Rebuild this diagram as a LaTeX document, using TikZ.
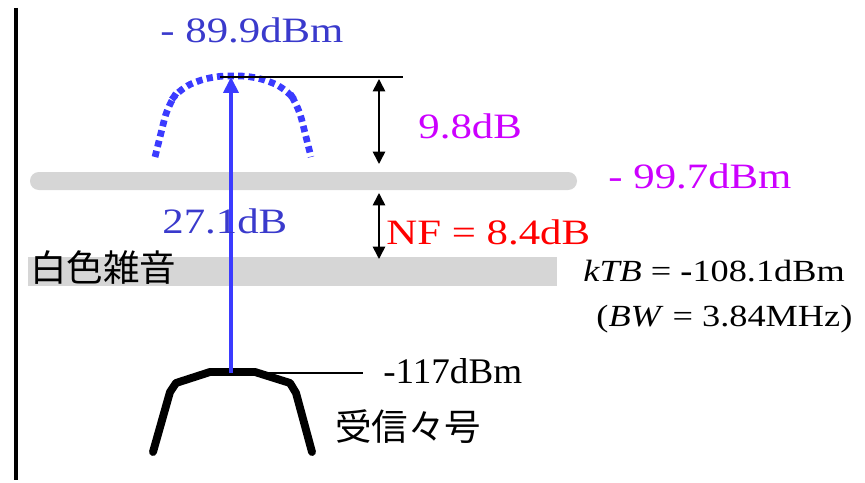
\documentclass[tikz,border=0pt]{standalone}
\usepackage{fontspec}
\setmainfont{Liberation Serif}
\newfontfamily\cjk{Noto Sans CJK JP}
\usetikzlibrary{arrows.meta}
\definecolor{lblue}{HTML}{3A3ACC}
\definecolor{cblue}{HTML}{3B3BFF}
\definecolor{mag}{HTML}{CC00FF}
\definecolor{bargray}{HTML}{D6D6D6}
\tikzset{
  big/.style={inner sep=0pt, font=\fontsize{20.3pt}{24pt}\selectfont, xscale=1.2, transform shape, anchor=base west},
  mid/.style={inner sep=0pt, font=\fontsize{17.5pt}{21pt}\selectfont, xscale=1.18, transform shape, anchor=base west},
  cjktext/.style={inner sep=0pt, font=\cjk\fontsize{20.8pt}{24pt}\selectfont, anchor=west},
  dimarrow/.style={line width=0.9pt, {Triangle[length=7pt,width=7pt]}-{Triangle[length=7pt,width=7pt]}},
}
\begin{document}
\begin{tikzpicture}[x=0.02cm,y=-0.02cm]
\useasboundingbox (0,0) rectangle (865,483);
% axis
\coordinate (axT) at (16,8);
\coordinate (axB) at (16,480);
\draw[line width=2.2pt] (axT) -- (axB);
% gray bars
\fill[bargray, rounded corners=5pt] (30,172) rectangle (577,190);
\fill[bargray] (28,257) rectangle (557,286);
% noise spectrum (dotted)
\draw[cblue, line width=3.8pt, dash pattern=on 3.6pt off 2.4pt, rounded corners=8pt]
  (155,157) -- (168,105) -- (180,88) -- (212,76) -- (254,76) -- (286,88) -- (298,105) -- (311,157);
% received signal
\draw[line width=4.5pt, line join=round, line cap=round]
  (153,452) -- (170,392) -- (176,383) -- (210,372) -- (255,372) -- (290,383) -- (296,393) -- (312,452);
% reference lines
\coordinate (topL) at (220,77);
\coordinate (topR) at (403,77);
\draw[line width=0.9pt] (topL) -- (topR);
\coordinate (sigL) at (255,373);
\coordinate (sigR) at (363,373);
\draw[line width=0.9pt] (sigL) -- (sigR);
% blue arrow
\coordinate (bS) at (231,373);
\coordinate (bE) at (231,77);
\draw[cblue, line width=2pt, -{Triangle[length=9pt,width=8.5pt]}] (bS) -- (bE);
% dimension arrows
\coordinate (d1a) at (379,79);
\coordinate (d1b) at (379,164);
\draw[dimarrow] (d1a) -- (d1b);
\coordinate (d2a) at (379,193);
\coordinate (d2b) at (379,259);
\draw[dimarrow] (d2a) -- (d2b);
% labels
\node[big, text=lblue] (l899) at (160,43) {- 89.9dBm};
\node[big, text=mag] (l98) at (418,138) {9.8dB};
\node[big, text=mag] (l997) at (608,188) {- 99.7dBm};
\node[big, text=lblue] (l271) at (162,233) {27.1dB};
\node[big, text=red] (lnf) at (386,244) {NF = 8.4dB};
\node[mid] (lktb) at (583,281) {\textit{kTB} = \textbf{-}108.1dBm};
\node[mid] (lbw) at (596,326) {(\textit{BW} = 3.84MHz)};
\node[inner sep=0pt, font=\fontsize{20.5pt}{24pt}\selectfont, xscale=1.03, transform shape, anchor=base west] (l117) at (383,383) {-117dBm};
\node[cjktext] (lnoise) at (30,268) {白色雑音};
\node[cjktext] (lsig) at (335,427) {受信々号};
\end{tikzpicture}
\end{document}
